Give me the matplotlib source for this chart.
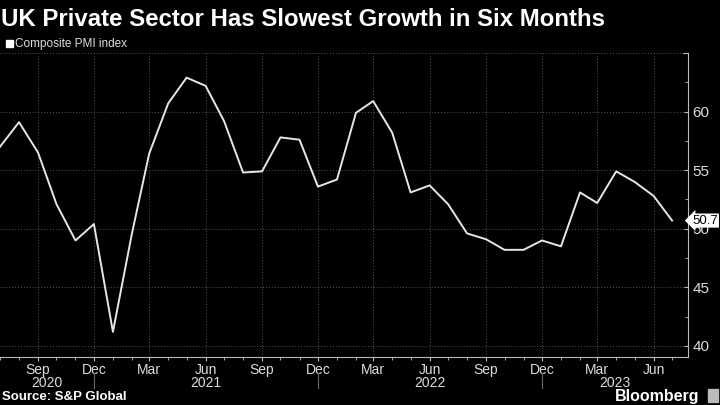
import numpy as np
import pandas as pd
import matplotlib
matplotlib.use("Agg")
import matplotlib.pyplot as plt
import matplotlib.dates as mdates
from matplotlib.patches import Rectangle

#   Composite PMI, monthly, Jul 2020 - Jul 2023
months = pd.date_range("2020-07-01", "2023-07-01", freq="MS")
pmi = [57.0, 59.1, 56.5, 52.1, 49.0, 50.4, 41.2, 49.6, 56.4, 60.7, 62.9, 62.2,
       59.2, 54.8, 54.9, 57.8, 57.6, 53.6, 54.2, 59.9, 60.9, 58.2, 53.1, 53.7,
       52.1, 49.6, 49.1, 48.2, 48.2, 49.0, 48.5, 53.1, 52.2, 54.9, 54.0, 52.8,
       50.7]
years = ["2020", "2021", "2022", "2023"]
yticks = [40, 45, 50, 55, 60]

plt.rcParams["font.family"] = ["Liberation Sans", "DejaVu Sans"]

fig = plt.figure(figsize=(7.2, 4.05), dpi=100, facecolor="black")
ax = fig.add_axes([0.0, 0.1185, 0.9556, 0.7505], facecolor="black")

ax.plot(months, pmi, color="#e6e6e6", lw=1.4)

xmin = pd.Timestamp("2020-07-01")
xmax = pd.Timestamp("2023-07-27")
ylo, yhi = 39.05, 65
ax.set_xlim(xmin, xmax)
ax.set_ylim(ylo, yhi)

#   grid
for y in [40, 45, 50, 55, 60, 65]:
    ax.axhline(y, color="#555555", lw=0.7, ls=(0, (1, 2)), zorder=0)
ax.xaxis.set_major_locator(mdates.MonthLocator(bymonth=[3, 6, 9, 12]))
ax.xaxis.set_minor_locator(mdates.MonthLocator())
ax.xaxis.set_major_formatter(mdates.DateFormatter("%b"))
ax.grid(axis="x", which="major", color="#555555", lw=0.7, ls=(0, (1, 2)))

#   spines
for s in ["top", "left"]:
    ax.spines[s].set_visible(False)
ax.spines["bottom"].set_color("#bbbbbb")
ax.spines["right"].set_color("#bbbbbb")

ax.yaxis.tick_right()
ax.set_yticks(yticks)
ax.set_yticks(np.arange(42.5, 65, 2.5), minor=True)
ax.tick_params(axis="y", which="both", colors="#bbbbbb", labelcolor="#dddddd",
               direction="in", length=3, labelsize=11, pad=3)
ax.tick_params(axis="y", which="minor", length=2)
ax.tick_params(axis="x", which="major", colors="#bbbbbb", labelcolor="#dddddd",
               length=3, labelsize=10, pad=1)
ax.tick_params(axis="x", which="minor", colors="#bbbbbb", length=2)

#   top tick mark at 65
ax.plot([1.0, 0.993], [1.0, 1.0], transform=ax.transAxes, color="#bbbbbb",
        lw=0.8, clip_on=False)

#   year separators and labels
seps = [pd.Timestamp("2020-12-01"), pd.Timestamp("2021-12-01"), pd.Timestamp("2022-12-01")]
trans = ax.get_xaxis_transform()
for d in seps:
    ax.plot([d, d], [-0.053, -0.102], transform=trans, color="#666666", lw=0.8,
            clip_on=False)
edges = [xmin] + seps + [xmax]
for i, yr in enumerate(years):
    mid = edges[i] + (edges[i + 1] - edges[i]) / 2
    ax.text(mid, -0.086, yr, transform=trans, ha="center", va="center",
            color="#dddddd", fontsize=10)

#   last value label
ax.text(1.006, (pmi[-1] - ylo) / (yhi - ylo), "50.7", transform=ax.transAxes,
        ha="left", va="center", fontsize=9.5, color="black",
        bbox=dict(boxstyle="larrow,pad=0.08", fc="white", ec="none"),
        clip_on=False, zorder=5)

#   title, legend, footer
fig.text(0.002, 0.953, "UK Private Sector Has Slowest Growth in Six Months",
         color="white", fontsize=17.3, fontweight="bold", ha="left", va="center")
fig.patches.append(Rectangle((0.009, 0.883), 0.009, 0.018, transform=fig.transFigure,
                             color="white"))
fig.text(0.021, 0.892, "Composite PMI index", color="#dddddd", fontsize=8.5,
         ha="left", va="center")
fig.text(0.003, 0.02, "Source: S&P Global", color="white", fontsize=9.5,
         fontweight="bold", ha="left", va="center")
fig.text(0.972, 0.022, "Bloomberg", color="white", fontsize=11.5,
         fontweight="bold", ha="right", va="center")
fig.patches.append(Rectangle((0.983, 0.008), 0.014, 0.032, transform=fig.transFigure,
                             color="#bbbbbb"))

fig.savefig("out.png", dpi=100, facecolor="black")
